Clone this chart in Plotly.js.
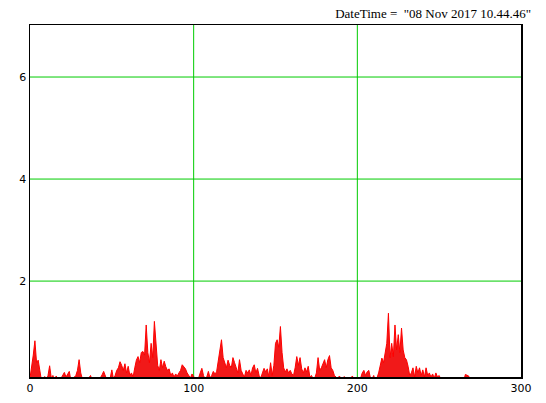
<!DOCTYPE html>
<html>
<head>
<meta charset="utf-8">
<script src="https://cdn.plot.ly/plotly-3.0.1.min.js"></script>
<style>html,body{margin:0;padding:0;background:#fff;}#chart{width:546px;height:403px;}</style>
</head>
<body>
<div id="chart"></div>
<script>
const titleText = 'DateTime =  "08 Nov 2017 10.44.46"';
const xTickVals = [0, 100, 200, 300];
const yTickVals = [2, 4, 6];
const xGridVals = [100, 200];
const yGridVals = [2, 4, 6];
const values = [
0.1,0.3,0.55,0.83,0.4,0.45,0.2,0.05,0.08,0.13,
0.05,0.15,0.34,0.1,0.15,0.05,0.14,0.06,0.04,0.1,
0.16,0.21,0.12,0.18,0.23,0.05,0.08,0.1,0.15,0.25,
0.46,0.2,0.08,0.05,0.03,0.06,0.1,0.15,0.05,0.04,
0.06,0.08,0.05,0.1,0.16,0.23,0.12,0.06,0.08,0.1,
0.26,0.08,0.15,0.25,0.3,0.42,0.35,0.25,0.38,0.2,
0.33,0.15,0.2,0.12,0.3,0.45,0.52,0.4,0.6,0.62,
0.55,1.14,0.6,0.4,0.78,0.5,1.21,0.66,0.35,0.25,
0.46,0.3,0.43,0.32,0.25,0.28,0.15,0.2,0.12,0.18,
0.14,0.2,0.25,0.36,0.32,0.28,0.2,0.15,0.1,0.18,
0.12,0.08,0.05,0.1,0.2,0.29,0.15,0.08,0.12,0.23,
0.1,0.15,0.23,0.18,0.22,0.43,0.6,0.85,0.5,0.4,
0.3,0.45,0.35,0.3,0.5,0.4,0.3,0.2,0.46,0.25,
0.18,0.12,0.25,0.2,0.26,0.15,0.3,0.36,0.2,0.29,
0.15,0.1,0.2,0.29,0.22,0.28,0.12,0.4,0.15,0.35,
0.78,0.85,0.7,1.11,0.6,0.3,0.22,0.28,0.2,0.25,
0.18,0.15,0.3,0.52,0.35,0.5,0.28,0.2,0.3,0.22,
0.33,0.12,0.15,0.08,0.1,0.2,0.5,0.25,0.3,0.4,
0.46,0.3,0.46,0.54,0.3,0.25,0.15,0.12,0.08,0.14,
0.1,0.06,0.13,0.05,0.08,0.04,0.1,0.14,0.05,0.08,
0.12,0.06,0.1,0.2,0.25,0.15,0.22,0.25,0.1,0.08,
0.15,0.05,0.1,0.2,0.35,0.49,0.4,0.6,0.78,1.37,
0.5,0.78,0.52,1.14,0.65,0.95,0.6,1.08,0.65,0.5,
0.46,0.33,0.15,0.2,0.3,0.12,0.33,0.2,0.3,0.15,
0.26,0.12,0.3,0.15,0.2,0.12,0.18,0.1,0.2,0.12,
0.15,0.08,0.1,0.05,0.06,0.04,0.05,0.03,0.05,0.04,
0.03,0.05,0.04,0.03,0.05,0.04,0.17,0.15,0.14,0.04,
0.03,0.02,0.04,0.03,0.02,0.03,0.04,0.02,0.03,0.02,
0.03,0.02,0.04,0.03,0.02,0.03,0.02,0.04,0.03,0.02,
0.03,0.02,0.03,0.04,0.02,0.03,0.02,0.03,0.02,0.03
];
const xs = values.map((v, i) => i);

const trace = {
  x: xs, y: values, type: 'scatter', mode: 'lines',
  line: {color: 'rgb(255,0,0)', width: 1},
  fill: 'tozeroy', fillcolor: 'rgba(240,0,0,0.9)',
  hoverinfo: 'skip'
};

const gridGreen = 'rgb(0,204,0)';
const shapes = [];
xGridVals.forEach(v => shapes.push({type: 'line', xref: 'x', yref: 'paper', x0: v, x1: v, y0: 0, y1: 1, layer: 'below', line: {color: gridGreen, width: 1}}));
yGridVals.forEach(v => shapes.push({type: 'line', xref: 'paper', yref: 'y', x0: 0, x1: 1, y0: v, y1: v, layer: 'below', line: {color: gridGreen, width: 1}}));

const layout = {
  width: 546, height: 403,
  margin: {l: 30, r: 25, t: 25, b: 26, pad: 0},
  paper_bgcolor: '#fff', plot_bgcolor: '#fff',
  showlegend: false,
  shapes: shapes,
  title: {
    text: titleText, xref: 'container', yref: 'container',
    x: 531/546, xanchor: 'right', y: 1 - 13/403, yanchor: 'middle',
    font: {family: 'Liberation Serif', size: 13, color: '#000'}
  },
  xaxis: {
    range: [0, 300], tickvals: xTickVals,
    showline: true, mirror: true, linecolor: '#000', linewidth: 1.5,
    showgrid: false, zeroline: false, ticks: '',
    tickfont: {family: 'DejaVu Sans', size: 11, color: '#000'}
  },
  yaxis: {
    range: [0.12, 7.02], tickvals: yTickVals,
    showline: true, mirror: true, linecolor: '#000', linewidth: 1.5,
    showgrid: false, zeroline: false, ticks: '',
    tickfont: {family: 'DejaVu Sans', size: 11, color: '#000'}
  }
};

Plotly.newPlot('chart', [trace], layout, {staticPlot: true});
</script>
</body>
</html>
